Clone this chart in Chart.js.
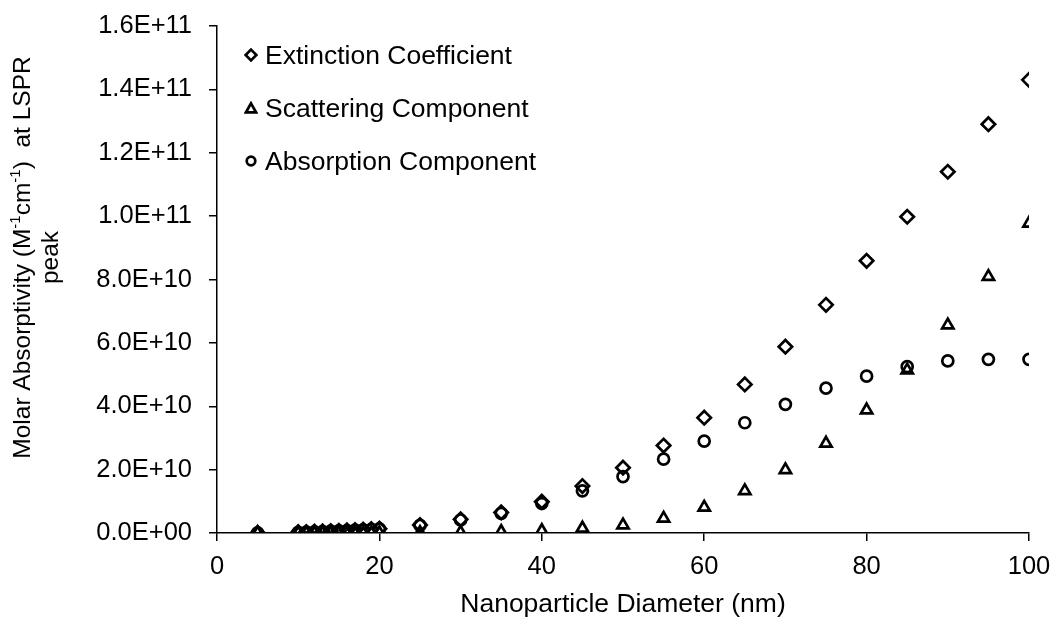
<!DOCTYPE html>
<html lang="en">

<head>
    <meta charset="UTF-8">
    <title>Molar Absorptivity vs Diameter</title>
    <script src="https://cdn.jsdelivr.net/npm/chart.js"></script>
    <style>
        body {
            margin: 0;
            padding: 0;
            background: #fff;
            font-family: "Liberation Sans", Arial, sans-serif;
        }

        #wrap {
            position: relative;
            width: 1053px;
            height: 617px;
        }

        #legend {
            position: absolute;
            left: 244px;
            top: 39px;
            font-size: 26.5px;
            color: #000;
        }

        .row {
            display: flex;
            align-items: center;
            height: 32px;
            margin-bottom: 21px;
        }

        .row svg {
            margin-right: 7px;
        }
    </style>
</head>

<body>
    <div id="wrap">
        <canvas id="chart" width="1053" height="617"></canvas>
        <div id="legend">
            <div class="row">
                <svg width="14" height="14"><path d="M7 1.6 L12.4 7 L7 12.4 L1.6 7 Z" fill="none" stroke="#000" stroke-width="2.7"/></svg>
                <span>Extinction Coefficient</span>
            </div>
            <div class="row">
                <svg width="14" height="14"><path d="M7 2.3 L12 11.3 L2 11.3 Z" fill="none" stroke="#000" stroke-width="2.7"/></svg>
                <span>Scattering Component</span>
            </div>
            <div class="row">
                <svg width="14" height="14"><circle cx="7" cy="7" r="4.3" fill="none" stroke="#000" stroke-width="2.7"/></svg>
                <span>Absorption Component</span>
            </div>
        </div>
    </div>

    <script>
        // diameters in nm
        const diameters = [5, 10, 11, 12, 13, 14, 15, 16, 17, 18, 19, 20, 25, 30, 35, 40, 45, 50, 55, 60, 65, 70, 75, 80, 85, 90, 95, 100];

        // molar absorptivity, M-1 cm-1
        const extinction = [0.05e9, 0.25e9, 0.32e9, 0.4e9, 0.5e9, 0.6e9, 0.7e9, 0.8e9, 0.95e9, 1.05e9, 1.2e9, 1.35e9,
            2.5e9, 4.3e9, 6.5e9, 9.9e9, 1.48e10, 2.06e10, 2.76e10, 3.64e10, 4.69e10, 5.88e10, 7.2e10, 8.59e10,
            9.98e10, 1.14e11, 1.29e11, 1.43e11];
        const scattering = [0, 0.001e9, 0.002e9, 0.003e9, 0.004e9, 0.006e9, 0.008e9, 0.01e9, 0.013e9, 0.017e9, 0.022e9, 0.028e9,
            0.09e9, 0.2e9, 0.4e9, 0.7e9, 1.5e9, 2.5e9, 4.6e9, 8.1e9, 1.33e10, 1.99e10, 2.83e10, 3.88e10,
            5.14e10, 6.56e10, 8.09e10, 9.77e10];
        const absorption = [0.05e9, 0.24e9, 0.31e9, 0.39e9, 0.48e9, 0.58e9, 0.68e9, 0.78e9, 0.9e9, 1.0e9, 1.15e9, 1.3e9,
            2.4e9, 4.1e9, 6.2e9, 9.3e9, 1.33e10, 1.78e10, 2.33e10, 2.9e10, 3.48e10, 4.06e10, 4.57e10, 4.95e10,
            5.25e10, 5.43e10, 5.48e10, 5.48e10];

        const seriesNames = ["Extinction Coefficient", "Scattering Component", "Absorption Component"];
        const xTitle = "Nanoparticle Diameter (nm)";
        // y title pieces: [text, isSuperscript]
        const yTitleLine1 = [["Molar Absorptivity (M", false], ["-1", true], ["cm", false], ["-1", true], [")  at LSPR", false]];
        const yTitleLine2 = "peak";

        function toPoints(values) {
            return diameters.map((d, i) => ({ x: d, y: values[i] }));
        }

        function sci(v) {
            if (v === 0) return "0.0E+00";
            const e = Math.floor(Math.log10(v) + 1e-9);
            const m = v / Math.pow(10, e);
            return m.toFixed(1) + "E+" + String(e).padStart(2, "0");
        }

        const family = '"Liberation Sans", Arial, sans-serif';
        const tickFont = { family: family, size: 25.5 };
        const titleFont = { family: family, size: 26.5 };

        // y axis title drawn by hand so the superscripts look right
        const yTitlePlugin = {
            id: "yTitle",
            afterDraw(chart) {
                const c = chart.ctx;
                const area = chart.chartArea;
                const cy = (area.top + area.bottom) / 2 - 22;
                const big = "24.5px " + family;
                const small = "15px " + family;
                c.save();
                c.fillStyle = "#000";
                c.textBaseline = "middle";
                // line 1
                let total = 0;
                for (const [t, sup] of yTitleLine1) {
                    c.font = sup ? small : big;
                    total += c.measureText(t).width;
                }
                c.translate(23, cy);
                c.rotate(-Math.PI / 2);
                let x = -total / 2;
                for (const [t, sup] of yTitleLine1) {
                    c.font = sup ? small : big;
                    c.fillText(t, x, sup ? -7 : 0);
                    x += c.measureText(t).width;
                }
                // line 2
                c.font = big;
                c.textAlign = "center";
                c.fillText(yTitleLine2, 0, 28);
                c.restore();
            },
        };

        const ctx = document.getElementById("chart").getContext("2d");
        new Chart(ctx, {
            type: "scatter",
            data: {
                datasets: [
                    {
                        label: seriesNames[0],
                        data: toPoints(extinction),
                        pointStyle: "rectRot",
                        pointRadius: 6.7,
                        borderColor: "#000",
                        backgroundColor: "transparent",
                        borderWidth: 2.7,
                    },
                    {
                        label: seriesNames[1],
                        data: toPoints(scattering),
                        pointStyle: "triangle",
                        pointRadius: 6.5,
                        borderColor: "#000",
                        backgroundColor: "transparent",
                        borderWidth: 2.7,
                    },
                    {
                        label: seriesNames[2],
                        data: toPoints(absorption),
                        pointStyle: "circle",
                        pointRadius: 5.5,
                        borderColor: "#000",
                        backgroundColor: "transparent",
                        borderWidth: 2.7,
                    },
                ],
            },
            options: {
                responsive: false,
                animation: false,
                layout: { padding: 0 },
                plugins: {
                    legend: { display: false },
                    tooltip: { enabled: false },
                },
                scales: {
                    x: {
                        type: "linear",
                        min: 0,
                        max: 100,
                        ticks: { stepSize: 20, color: "#000", font: tickFont, padding: 11, maxRotation: 0 },
                        grid: { drawOnChartArea: false, drawTicks: true, tickLength: 8, color: "#000", lineWidth: 1.5 },
                        border: { color: "#000", width: 1.5 },
                        title: { display: true, text: xTitle, color: "#000", font: titleFont, padding: { top: 0, bottom: -4 } },
                        afterFit: s => {
                            s.height = 84;
                            s.paddingLeft = 0;
                            s.paddingRight = 24;
                        },
                    },
                    y: {
                        min: 0,
                        max: 1.6e11,
                        ticks: { stepSize: 2e10, color: "#000", font: tickFont, padding: 17, callback: v => sci(v) },
                        grid: { drawOnChartArea: false, drawTicks: true, tickLength: 8, color: "#000", lineWidth: 1.5 },
                        border: { color: "#000", width: 1.5 },
                        afterFit: s => {
                            s.width = 217;
                            s.paddingTop = 26;
                            s.paddingBottom = 0;
                        },
                    },
                },
            },
            plugins: [yTitlePlugin],
        });
    </script>
</body>

</html>
